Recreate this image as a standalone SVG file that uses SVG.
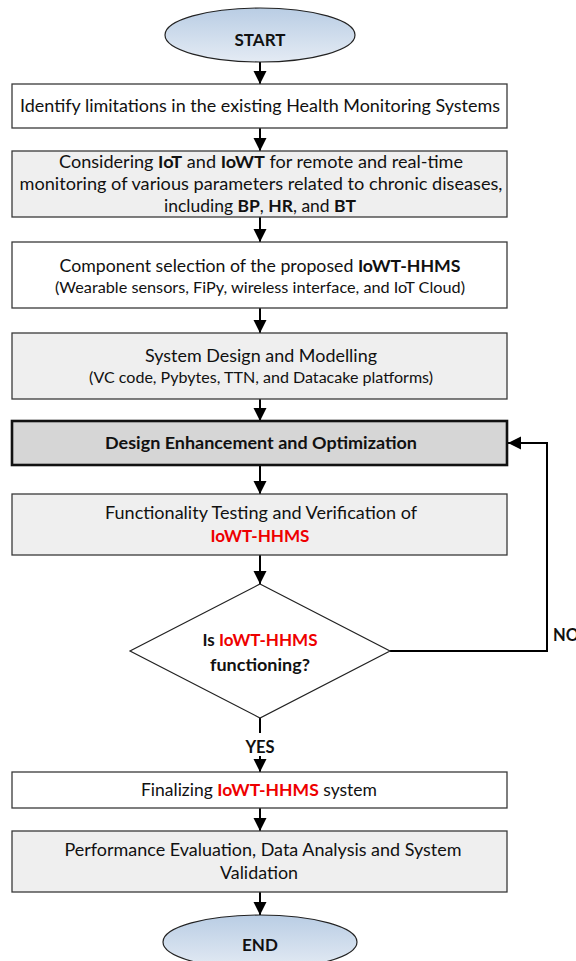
<svg xmlns="http://www.w3.org/2000/svg" width="576" height="961" viewBox="0 0 576 961">
  <style>
    text { font-family: Lato, "Open Sans", "Liberation Sans", sans-serif; fill: #111; text-anchor: middle; }
    .t { font-size: 17.5px; }
    .s { font-size: 15px; }
    .b { font-weight: bold; }
    .red { fill: #ee0000; font-weight: bold; }
    .box { stroke: #3a3a3a; stroke-width: 1.3; }
    .white { fill: #ffffff; }
    .grey { fill: #efefef; }
    .dark { fill: #d6d6d6; stroke: #111; stroke-width: 2.6; }
    .term { fill: url(#termFill); stroke: #222; stroke-width: 1.2; }
    .flow { fill: none; stroke: #000; stroke-width: 2; }
  </style>
  <defs>
    <linearGradient id="termFill" x1="0" y1="0" x2="0" y2="1">
      <stop offset="0" stop-color="#b9cde4"/>
      <stop offset="1" stop-color="#e4ebf4"/>
    </linearGradient>
    <marker id="head" markerUnits="userSpaceOnUse" markerWidth="14" markerHeight="14" refX="13" refY="6.5" orient="auto">
      <path d="M0,0 L13,6.5 L0,13 Z" fill="#000"/>
    </marker>
  </defs>

  <!-- connectors -->
  <g id="connectors">
    <line class="flow" x1="260" y1="62" x2="260" y2="84" marker-end="url(#head)"/>
    <line class="flow" x1="260" y1="128" x2="260" y2="151" marker-end="url(#head)"/>
    <line class="flow" x1="260" y1="217" x2="260" y2="242" marker-end="url(#head)"/>
    <line class="flow" x1="260" y1="308" x2="260" y2="333" marker-end="url(#head)"/>
    <line class="flow" x1="260" y1="399" x2="260" y2="421" marker-end="url(#head)"/>
    <line class="flow" x1="260" y1="465" x2="260" y2="494" marker-end="url(#head)"/>
    <line class="flow" x1="260" y1="555" x2="260" y2="584" marker-end="url(#head)"/>
    <line class="flow" x1="260" y1="718" x2="260" y2="733"/>
    <line class="flow" x1="260" y1="756" x2="260" y2="772" marker-end="url(#head)"/>
    <line class="flow" x1="260" y1="808" x2="260" y2="831" marker-end="url(#head)"/>
    <line class="flow" x1="260" y1="892" x2="260" y2="915" marker-end="url(#head)"/>
    <polyline class="flow" points="390,651 547,651 547,443 508,443" marker-end="url(#head)"/>
    <text class="b" x="260" y="753" style="font-size:16.5px">YES</text>
    <text class="b" x="553" y="641" style="font-size:16.5px;text-anchor:start">NO</text>
  </g>

  <g id="start">
    <ellipse class="term" cx="260" cy="35" rx="95" ry="27"/>
    <text class="b" x="260" y="46" style="font-size:17px">START</text>
  </g>

  <g id="identify">
    <rect class="box white" x="12" y="84" width="495" height="44"/>
    <text class="t" x="260" y="112" textLength="480" lengthAdjust="spacingAndGlyphs">Identify limitations in the existing Health Monitoring Systems</text>
  </g>

  <g id="considering">
    <rect class="box grey" x="12" y="151" width="495" height="66"/>
    <text class="t" x="261" y="168" textLength="404" lengthAdjust="spacingAndGlyphs">Considering <tspan class="b">IoT</tspan> and <tspan class="b">IoWT</tspan> for remote and real-time</text>
    <text class="t" x="261" y="190" textLength="483" lengthAdjust="spacingAndGlyphs">monitoring of various parameters related to chronic diseases,</text>
    <text class="t" x="260" y="212" textLength="192" lengthAdjust="spacingAndGlyphs">including <tspan class="b">BP</tspan>, <tspan class="b">HR</tspan>, and <tspan class="b">BT</tspan></text>
  </g>

  <g id="components">
    <rect class="box white" x="12" y="242" width="495" height="66"/>
    <text class="t" x="260" y="272" textLength="401" lengthAdjust="spacingAndGlyphs">Component selection of the proposed <tspan class="b">IoWT-HHMS</tspan></text>
    <text class="s" x="260" y="293" textLength="410" lengthAdjust="spacingAndGlyphs">(Wearable sensors, FiPy, wireless interface, and IoT Cloud)</text>
  </g>

  <g id="design">
    <rect class="box grey" x="12" y="333" width="495" height="66"/>
    <text class="t" x="261" y="362" textLength="232" lengthAdjust="spacingAndGlyphs">System Design and Modelling</text>
    <text class="s" x="261" y="383" textLength="344" lengthAdjust="spacingAndGlyphs">(VC code, Pybytes, TTN, and Datacake platforms)</text>
  </g>

  <g id="enhancement">
    <rect class="dark" x="12" y="421" width="495" height="44"/>
    <text class="t b" x="261" y="449" textLength="312" lengthAdjust="spacingAndGlyphs">Design Enhancement and Optimization</text>
  </g>

  <g id="testing">
    <rect class="box grey" x="12" y="494" width="495" height="61"/>
    <text class="t" x="261" y="519" textLength="312" lengthAdjust="spacingAndGlyphs">Functionality Testing and Verification of</text>
    <text class="t red" x="260" y="542" textLength="99" lengthAdjust="spacingAndGlyphs">IoWT-HHMS</text>
  </g>

  <g id="decision">
    <polygon points="260,584 390,651 260,718 130,651" fill="#ffffff" stroke="#222" stroke-width="1.2"/>
    <text class="t b" x="260" y="646" textLength="115" lengthAdjust="spacingAndGlyphs">Is <tspan class="red">IoWT-HHMS</tspan></text>
    <text class="t b" x="260" y="671" textLength="100" lengthAdjust="spacingAndGlyphs">functioning?</text>
  </g>

  <g id="finalizing">
    <rect class="box white" x="12" y="772" width="495" height="36"/>
    <text class="t" x="259" y="796" textLength="236" lengthAdjust="spacingAndGlyphs">Finalizing <tspan class="red">IoWT-HHMS</tspan> system</text>
  </g>

  <g id="evaluation">
    <rect class="box grey" x="12" y="831" width="495" height="61"/>
    <text class="t" x="263" y="856" textLength="397" lengthAdjust="spacingAndGlyphs">Performance Evaluation, Data Analysis and System</text>
    <text class="t" x="259" y="879" textLength="78" lengthAdjust="spacingAndGlyphs">Validation</text>
  </g>

  <g id="end">
    <ellipse class="term" cx="260" cy="942" rx="97" ry="27"/>
    <text class="b" x="260" y="951" style="font-size:17px">END</text>
  </g>
</svg>
